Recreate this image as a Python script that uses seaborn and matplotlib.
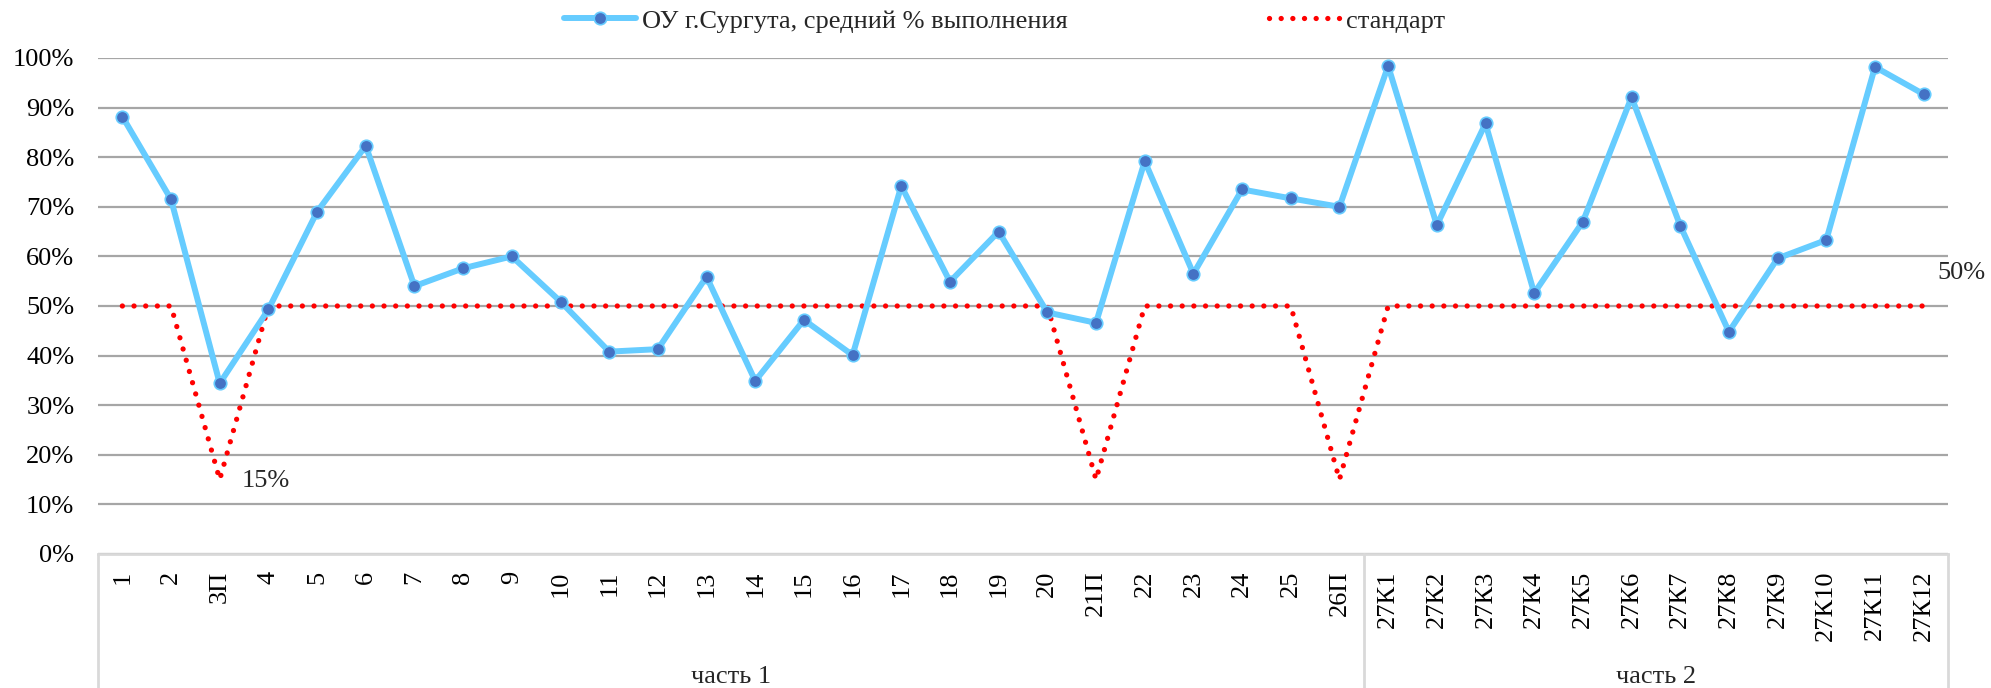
import numpy as np
import pandas as pd
import matplotlib
matplotlib.use("Agg")
import matplotlib.pyplot as plt
import matplotlib.transforms as mtransforms
from matplotlib.ticker import FuncFormatter
import seaborn as sns

categories = ["1", "2", "3П", "4", "5", "6", "7", "8", "9", "10", "11", "12", "13",
              "14", "15", "16", "17", "18", "19", "20", "21П", "22", "23", "24", "25", "26П",
              "27К1", "27К2", "27К3", "27К4", "27К5", "27К6", "27К7", "27К8", "27К9",
              "27К10", "27К11", "27К12"]
surgut_pct = [88.2, 71.5, 34.4, 49.3, 69.0, 82.3, 54.0, 57.6, 60.0, 50.9, 40.8, 41.3, 55.9,
              34.9, 47.2, 40.1, 74.2, 54.9, 65.0, 48.7, 46.6, 79.2, 56.5, 73.5, 71.7, 70.0,
              98.4, 66.3, 86.8, 52.6, 67.0, 92.1, 66.2, 44.8, 59.6, 63.3, 98.2, 92.7]
standard_pct = [50, 50, 15, 50, 50, 50, 50, 50, 50, 50, 50, 50, 50,
                50, 50, 50, 50, 50, 50, 50, 15, 50, 50, 50, 50, 15,
                50, 50, 50, 50, 50, 50, 50, 50, 50, 50, 50, 50]
groups = ["часть 1", "часть 2"]
group_sizes = [26, 12]
series_names = ["ОУ г.Сургута, средний % выполнения", "стандарт"]

df = pd.DataFrame({
    "pos": np.arange(len(categories)),
    "cat": categories,
    "surgut": np.array(surgut_pct) / 100.0,
    "standard": np.array(standard_pct) / 100.0,
})

sns.set_style("white")
plt.rcParams["font.family"] = ["Liberation Serif", "DejaVu Serif"]
FS = 19

W, H = 1991, 688
fig = plt.figure(figsize=(W / 100, H / 100), dpi=100)
ax = fig.add_axes([98 / W, 1 - 554 / H, (1948 - 98) / W, (554 - 58) / H])

sns.lineplot(data=df, x="pos", y="standard", ax=ax, color="#ff0000",
             linewidth=3.8, linestyle=(0, (0.01, 2.2)), dash_capstyle="round",
             solid_capstyle="round", label=series_names[1], sort=False, zorder=3)
sns.lineplot(data=df, x="pos", y="surgut", ax=ax, color="#66ccff",
             linewidth=4.3, marker="o", markersize=9, markerfacecolor="#4472c4",
             markeredgecolor="#66ccff", markeredgewidth=1.2,
             label=series_names[0], sort=False, zorder=4)

ax.set_xlim(-0.5, len(categories) - 0.5)
ax.set_ylim(0, 1.0)
ax.set_yticks(np.arange(0, 1.01, 0.1))
ax.yaxis.set_major_formatter(FuncFormatter(lambda v, p: f"{v*100:.0f}%"))
ax.set_xticks(df["pos"])
ax.set_xticklabels(categories, rotation=90)
ax.tick_params(axis="y", length=0, pad=17, labelsize=FS, colors="black")
ax.tick_params(axis="x", length=0, pad=12, labelsize=FS, colors="black")
ax.set_xlabel("")
ax.set_ylabel("")

ax.set_axisbelow(True)
ax.yaxis.grid(True, color="#a6a6a6", linewidth=1.6)
ax.xaxis.grid(False)
for s in ["top", "right", "left"]:
    ax.spines[s].set_visible(False)
ax.spines["bottom"].set_color("#d9d9d9")
ax.spines["bottom"].set_linewidth(2)
ax.spines["bottom"].set_zorder(2.6)

# group separators and labels
trans = mtransforms.blended_transform_factory(ax.transData, ax.transAxes)
edges = np.concatenate([[0], np.cumsum(group_sizes)]) - 0.5
for e in edges:
    ax.plot([e, e], [0, -0.32], transform=trans, color="#d9d9d9", lw=2, clip_on=False)
for g, a, b in zip(groups, edges[:-1], edges[1:]):
    ax.text((a + b) / 2, -0.248, g, transform=trans, ha="center", va="center", fontsize=FS)

# data labels
ax.annotate(f"{standard_pct[2]}%", xy=(2, standard_pct[2] / 100), xytext=(16, -1),
            textcoords="offset points", ha="left", va="center", fontsize=FS)
ax.annotate(f"{standard_pct[-1]}%", xy=(len(categories) - 1, standard_pct[-1] / 100),
            xytext=(27, 24), textcoords="offset points", ha="center", va="center",
            fontsize=FS, annotation_clip=False)

handles, labels = ax.get_legend_handles_labels()
ax.get_legend().remove()
order = [labels.index(series_names[0]), labels.index(series_names[1])]
fig.legend([handles[i] for i in order], [labels[i] for i in order],
           loc="center", bbox_to_anchor=(1005 / W, 1 - 21 / H), ncol=2,
           frameon=False, fontsize=FS, handlelength=2.7, handletextpad=0.25,
           columnspacing=7.6, borderpad=0, numpoints=1)

fig.savefig("out.png", dpi=100)
